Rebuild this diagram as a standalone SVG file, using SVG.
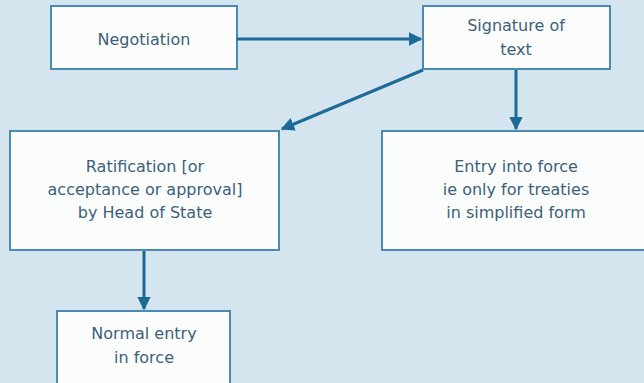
<svg xmlns="http://www.w3.org/2000/svg" width="644" height="383" viewBox="0 0 644 383">
<defs>
<style>
.box{fill:#fbfdfd;stroke:#4a8ab3;stroke-width:2}
.t{font-family:"DejaVu Sans",sans-serif;font-size:16px;fill:#3e5f78;text-anchor:middle}
.c{stroke:#1c6a96;stroke-width:3;fill:none}
</style>
<marker id="ah" viewBox="0 0 10 10" refX="9" refY="5" markerWidth="4.5" markerHeight="4.5" orient="auto" markerUnits="strokeWidth">
<path d="M0,0 L10,5 L0,10 z" fill="#1c6a96"/>
</marker>
</defs>
<rect x="0" y="0" width="644" height="383" fill="#d5e5ef"/>
<g id="negotiation">
<rect class="box" x="51" y="6" width="186" height="63"/>
<text class="t" x="144" y="45">Negotiation</text>
</g>
<g id="signature">
<rect class="box" x="423" y="6" width="187" height="63"/>
<text class="t" x="516" y="31">Signature of</text>
<text class="t" x="516" y="55">text</text>
</g>
<g id="ratification">
<rect class="box" x="10" y="131" width="269" height="119"/>
<text class="t" x="145" y="172">Ratification [or</text>
<text class="t" x="145" y="195">acceptance or approval]</text>
<text class="t" x="145" y="218">by Head of State</text>
</g>
<g id="entry">
<rect class="box" x="382" y="131" width="270" height="119"/>
<text class="t" x="516" y="172">Entry into force</text>
<text class="t" x="516" y="195">ie only for treaties</text>
<text class="t" x="516" y="218">in simplified form</text>
</g>
<g id="normal">
<rect class="box" x="57" y="311" width="173" height="80"/>
<text class="t" x="144" y="339">Normal entry</text>
<text class="t" x="144" y="363">in force</text>
</g>
<g id="connectors">
<line class="c" x1="237" y1="39" x2="421" y2="39" marker-end="url(#ah)"/>
<line class="c" x1="423" y1="70" x2="282" y2="129" marker-end="url(#ah)"/>
<line class="c" x1="516" y1="70" x2="516" y2="129" marker-end="url(#ah)"/>
<line class="c" x1="144" y1="251" x2="144" y2="309" marker-end="url(#ah)"/>
</g>
</svg>
